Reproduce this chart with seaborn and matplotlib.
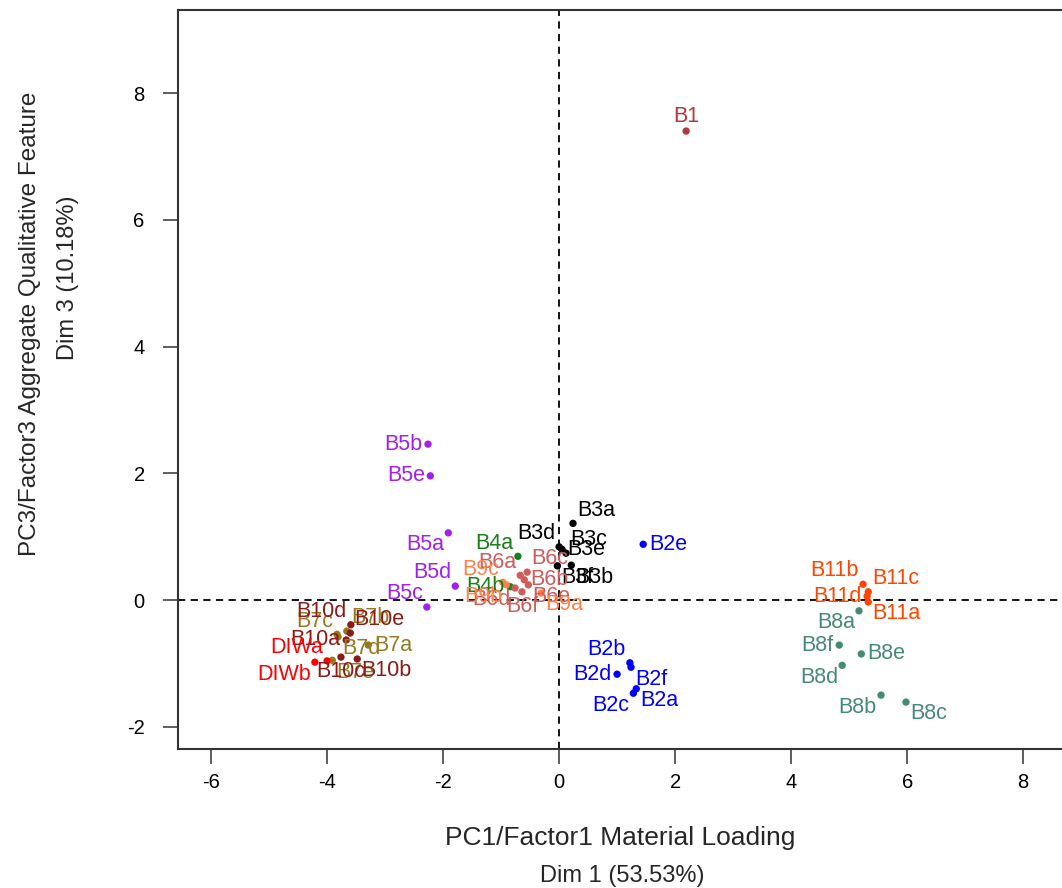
import matplotlib
matplotlib.use("Agg")
import matplotlib.pyplot as plt
import seaborn as sns
import pandas as pd

# Sample scores on PC1 (Dim 1) and PC3 (Dim 3)
names = ["B1",
         "B2a", "B2b", "B2c", "B2d", "B2e", "B2f",
         "B3a", "B3b", "B3c", "B3d", "B3e", "B3f",
         "B4a", "B4b",
         "B5a", "B5b", "B5c", "B5d", "B5e",
         "B6a", "B6b", "B6c", "B6d", "B6e", "B6f",
         "B7a", "B7b", "B7c", "B7d", "B7e",
         "B8a", "B8b", "B8c", "B8d", "B8e", "B8f",
         "B9a", "B9b", "B9c",
         "B10a", "B10b", "B10c", "B10d", "B10e",
         "B11a", "B11b", "B11c", "B11d",
         "DIWa", "DIWb"]
groups = ["B1",
          "B2", "B2", "B2", "B2", "B2", "B2",
          "B3", "B3", "B3", "B3", "B3", "B3",
          "B4", "B4",
          "B5", "B5", "B5", "B5", "B5",
          "B6", "B6", "B6", "B6", "B6", "B6",
          "B7", "B7", "B7", "B7", "B7",
          "B8", "B8", "B8", "B8", "B8", "B8",
          "B9", "B9", "B9",
          "B10", "B10", "B10", "B10", "B10",
          "B11", "B11", "B11", "B11",
          "DIW", "DIW"]
dim1 = [2.19,
        1.33, 1.22, 1.28, 1.00, 1.45, 1.24,
        0.24, 0.21, 0.12, 0.00, 0.05, -0.03,
        -0.71, -0.84,
        -1.91, -2.26, -2.28, -1.79, -2.22,
        -0.67, -0.60, -0.55, -0.76, -0.53, -0.64,
        -3.29, -3.66, -3.83, -3.81, -3.91,
        5.17, 5.55, 5.98, 4.88, 5.21, 4.83,
        -0.31, -0.91, -0.97,
        -3.67, -3.48, -3.76, -3.59, -3.60,
        5.33, 5.24, 5.33, 5.31,
        -4.00, -4.21]
dim3 = [7.40,
        -1.40, -0.99, -1.47, -1.17, 0.88, -1.06,
        1.21, 0.55, 0.74, 0.84, 0.80, 0.54,
        0.69, 0.21,
        1.06, 2.46, -0.11, 0.22, 1.96,
        0.39, 0.32, 0.44, 0.19, 0.24, 0.13,
        -0.71, -0.49, -0.54, -0.58, -0.95,
        -0.17, -1.50, -1.61, -1.03, -0.85, -0.71,
        0.11, 0.24, 0.28,
        -0.63, -0.93, -0.90, -0.39, -0.52,
        -0.03, 0.25, 0.13, 0.06,
        -0.96, -0.98]
# side of each point on which its name is written
label_side = ["t",
              "br", "tl", "bl", "l", "r", "br",
              "tr", "br", "tr", "tl", "r", "br",
              "tl", "l",
              "bl", "l", "tl", "tl", "l",
              "tl", "r", "tr", "bl", "br", "b",
              "r", "tr", "tl", "br", "br",
              "bl", "bl", "br", "bl", "r", "l",
              "br", "bl", "tl",
              "l", "br", "b", "tl", "tr",
              "br", "tl", "tr", "l",
              "tl", "bl"]

x_ticks = [-6, -4, -2, 0, 2, 4, 6, 8]
y_ticks = [-2, 0, 2, 4, 6, 8]

group_colors = {
    "B1": "#B2383A", "B2": "#0000FF", "B3": "#000000", "B4": "#1A7F1A",
    "B5": "#A020F0", "B6": "#CD5C5C", "B7": "#957A1E", "B8": "#458B74",
    "B9": "#FF8247", "B10": "#8B1A1A", "B11": "#FF4500", "DIW": "#FF0000",
}

df = pd.DataFrame({"name": names, "group": groups, "dim1": dim1, "dim3": dim3,
                   "side": label_side})

sns.set_style("white")
plt.rcParams["font.family"] = ["Liberation Sans", "DejaVu Sans"]

W, H = 1062, 888
fig = plt.figure(figsize=(W / 100, H / 100), dpi=100)
ax = fig.add_axes([178 / W, (H - 749) / H, (W - 178) / W, (749 - 10) / H])

ax.axvline(0, color="black", lw=1.3, ls=(0, (4, 3)), zorder=1)
ax.axhline(0, color="black", lw=1.3, ls=(0, (4, 3)), zorder=1)

sns.scatterplot(data=df, x="dim1", y="dim3", hue="group", palette=group_colors,
                s=28, edgecolor="none", legend=False, ax=ax, zorder=3)

offsets = {
    "r": (4, 0, "left", "center"), "l": (-4, 0, "right", "center"),
    "t": (0, 3, "center", "bottom"), "b": (0, -3, "center", "top"),
    "tr": (3, 2, "left", "bottom"), "tl": (-3, 2, "right", "bottom"),
    "br": (3, -1, "left", "top"), "bl": (-3, -1, "right", "top"),
}
for _, row in df.iterrows():
    dx, dy, ha, va = offsets[row["side"]]
    ax.annotate(row["name"], (row["dim1"], row["dim3"]), xytext=(dx, dy),
                textcoords="offset points", ha=ha, va=va, fontsize=15.5,
                color=group_colors[row["group"]], zorder=4)

ax.set_xlim(-6.57, 8.67)
ax.set_ylim(-2.35, 9.31)
ax.set_xticks(x_ticks)
ax.set_yticks(y_ticks)
ax.set_xticklabels([str(t) for t in x_ticks])
ax.set_yticklabels([str(t) for t in y_ticks])
ax.tick_params(axis="both", which="major", direction="out", length=11,
               width=1.1, color="#333333", labelsize=14.5, labelcolor="black",
               bottom=True, left=True)
ax.tick_params(axis="x", pad=6)
ax.tick_params(axis="y", pad=13)
for side in ("left", "bottom", "top"):
    ax.spines[side].set_color("#333333")
    ax.spines[side].set_linewidth(1.5)
ax.spines["right"].set_visible(False)
ax.set_xlabel("")
ax.set_ylabel("")

fig.text(620 / W, 1 - 838 / H, "PC1/Factor1 Material Loading", ha="center",
         va="center", fontsize=19)
fig.text(622 / W, 1 - 876 / H, "Dim 1 (53.53%)", ha="center", va="center",
         fontsize=17)
fig.text(30 / W, 1 - 324 / H, "PC3/Factor3 Aggregate Qualitative Feature",
         ha="center", va="center", rotation=90, fontsize=17.5)
fig.text(68 / W, 1 - 278 / H, "Dim 3 (10.18%)", ha="center", va="center",
         rotation=90, fontsize=17)

fig.savefig("out.png", dpi=100)
